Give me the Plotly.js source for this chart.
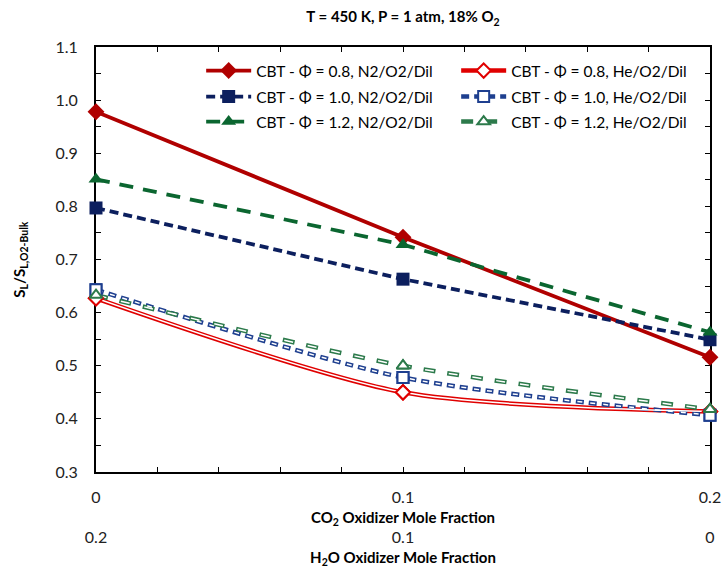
<!DOCTYPE html>
<html>
<head>
<meta charset="utf-8">
<script src="https://cdn.plot.ly/plotly-3.0.1.min.js"></script>
<style>html,body{margin:0;padding:0;background:#fff;}</style>
</head>
<body>
<div id="chart" style="width:723px;height:570px;"></div>
<script>
// ---- data ----
const co2Fraction = [0, 0.1, 0.2];
const h2oTickVals = [0.2, 0.1, 0];
const h2oTickText = ['0.2', '0.1', '0'];

const phi08_N2 = [0.978, 0.742, 0.516];
const phi10_N2 = [0.797, 0.663, 0.549];
const phi12_N2 = [0.851, 0.728, 0.563];
const phi08_He = [0.627, 0.450, 0.414];
const phi10_He = [0.643, 0.478, 0.407];
const phi12_He = [0.633, 0.500, 0.418];

const names = [
  'CBT - \u03A6 = 0.8, N2/O2/Dil', 'CBT - \u03A6 = 0.8, He/O2/Dil',
  'CBT - \u03A6 = 1.0, N2/O2/Dil', 'CBT - \u03A6 = 1.0, He/O2/Dil',
  'CBT - \u03A6 = 1.2, N2/O2/Dil', 'CBT - \u03A6 = 1.2, He/O2/Dil'
];

const xTickVals = [0, 0.02, 0.04, 0.06, 0.08, 0.1, 0.12, 0.14, 0.16, 0.18, 0.2];
const xTickText = ['0', '', '', '', '', '0.1', '', '', '', '', '0.2'];
const yTickVals = [0.3, 0.35, 0.4, 0.45, 0.5, 0.55, 0.6, 0.65, 0.7, 0.75, 0.8, 0.85, 0.9, 0.95, 1.0, 1.05, 1.1];
const yTickText = ['0.3', '', '0.4', '', '0.5', '', '0.6', '', '0.7', '', '0.8', '', '0.9', '', '1.0', '', '1.1'];

// ---- styles ----
const RED = '#B00000', NAVY = '#0C1F5E', GREEN = '#0B6630';
const RED2 = '#E00000', BLUE2 = '#1E3F8F', GREEN2 = '#2C7A4B';
const FONT = 'Lato, "Open Sans", sans-serif';
const SMOOTH = 0.75;

function n2Trace(y, name, color, dash, symbol, leg) {
  return {
    x: co2Fraction, y: y, name: name, type: 'scatter', mode: 'lines+markers', legend: leg,
    cliponaxis: false,
    line: {color: color, width: 3.8, dash: dash},
    marker: {color: color, symbol: symbol, size: 13},
    xaxis: 'x', yaxis: 'y'
  };
}
function heOuter(y, name, color, dash, symbol, leg) {
  return {
    x: co2Fraction, y: y, name: name, type: 'scatter', mode: 'lines+markers', legend: leg,
    cliponaxis: false,
    line: {color: color, width: 4.5, dash: dash, shape: 'spline', smoothing: SMOOTH},
    marker: {color: '#ffffff', symbol: symbol, size: 11, line: {color: color, width: 2}},
    xaxis: 'x', yaxis: 'y'
  };
}
function heInner(y, dash) {
  return {
    x: co2Fraction, y: y, type: 'scatter', mode: 'lines', showlegend: false, hoverinfo: 'skip',
    cliponaxis: false,
    line: {color: '#ffffff', width: 1.5, dash: dash, shape: 'spline', smoothing: SMOOTH},
    xaxis: 'x', yaxis: 'y'
  };
}
function heMarkers(y, color, symbol) {
  return {
    x: co2Fraction, y: y, type: 'scatter', mode: 'markers', showlegend: false, hoverinfo: 'skip',
    cliponaxis: false,
    marker: {color: '#ffffff', symbol: symbol, size: 11, line: {color: color, width: 2}},
    xaxis: 'x', yaxis: 'y'
  };
}

const traces = [
  n2Trace(phi08_N2, names[0], RED, 'solid', 'diamond', 'legend'),
  heOuter(phi08_He, names[1], RED2, 'solid', 'diamond', 'legend'),
  n2Trace(phi10_N2, names[2], NAVY, '9px,5px', 'square', 'legend2'),
  heOuter(phi10_He, names[3], BLUE2, '8px,5px', 'square', 'legend2'),
  n2Trace(phi12_N2, names[4], GREEN, '14px,10px', 'triangle-up', 'legend3'),
  heOuter(phi12_He, names[5], GREEN2, '12px,12px', 'triangle-up', 'legend3'),
  heInner(phi08_He, 'solid'),
  heInner(phi10_He, '0px,1.5px,5px,6.5px'),
  heInner(phi12_He, '0px,1.5px,9px,13.5px'),
  heMarkers(phi08_He, RED2, 'diamond'),
  heMarkers(phi10_He, BLUE2, 'square'),
  heMarkers(phi12_He, GREEN2, 'triangle-up')
];

const axisCommon = {
  showline: true, linecolor: '#000', linewidth: 2, mirror: 'ticks',
  ticks: 'inside', ticklen: 5, tickwidth: 1, tickcolor: '#000',
  showgrid: false, zeroline: false, fixedrange: true, layer: 'below traces',
  tickfont: {family: FONT, size: 16, color: '#222'}
};

function legendRow(yPaper) {
  return {
    orientation: 'h', x: 0.171, xanchor: 'left', y: yPaper, yanchor: 'middle',
    entrywidth: 195, entrywidthmode: 'pixels', traceorder: 'normal',
    font: {family: FONT, size: 15.5, color: '#000'},
    bgcolor: 'rgba(0,0,0,0)', itemwidth: 45
  };
}
// plot area: top 47px, domain bottom at 472px; paper height between 47 and 514
function rowY(px) { return (514 - px) / 467; }

const layout = {
  width: 723, height: 570,
  margin: {l: 96, r: 12, t: 47, b: 56},
  paper_bgcolor: '#fff', plot_bgcolor: '#fff',
  font: {family: FONT, color: '#000'},
  title: {
    text: '<b>T = 450 K, P = 1 atm, 18% O<sub>2</sub></b>',
    font: {family: FONT, size: 15, color: '#000'},
    x: 0.5, xref: 'paper', y: 0.97, yref: 'container', yanchor: 'middle'
  },
  xaxis: Object.assign({}, axisCommon, {
    range: [0, 0.2], anchor: 'y', tickmode: 'array', tickvals: xTickVals, ticktext: xTickText,
    ticklabelstandoff: 10,
    title: {text: '<b>CO<sub>2</sub> Oxidizer Mole Fraction</b>', font: {family: FONT, size: 15, color: '#000'}, standoff: 7}
  }),
  xaxis2: {
    overlaying: 'x', anchor: 'free', position: 0, side: 'bottom', range: [0.2, 0],
    tickmode: 'array', tickvals: h2oTickVals, ticktext: h2oTickText,
    showline: false, ticks: '', showgrid: false, zeroline: false, fixedrange: true,
    ticklabelstandoff: 12,
    tickfont: {family: FONT, size: 16, color: '#222'},
    title: {text: '<b>H<sub>2</sub>O Oxidizer Mole Fraction</b>', font: {family: FONT, size: 15, color: '#000'}, standoff: 7}
  },
  yaxis: Object.assign({}, axisCommon, {
    range: [0.3, 1.1], domain: [0.0899, 1], tickmode: 'array', tickvals: yTickVals, ticktext: yTickText,
    ticklabelstandoff: 13
  }),
  annotations: [{
    text: '<b>S<sub>L</sub>/S<sub>L,O2-Bulk</sub></b>', textangle: -90,
    xref: 'paper', x: -(96 - 19) / 615, xanchor: 'center',
    yref: 'paper', y: (0.0899 + 1) / 2, yanchor: 'middle',
    showarrow: false, font: {family: FONT, size: 15, color: '#000'}
  }],
  showlegend: true,
  legend: legendRow(rowY(71)),
  legend2: legendRow(rowY(97)),
  legend3: legendRow(rowY(122))
};

// dummy trace so the H2O axis renders
traces.push({x: h2oTickVals, y: [null, null, null], xaxis: 'x2', yaxis: 'y', showlegend: false, hoverinfo: 'skip', mode: 'lines'});

Plotly.newPlot('chart', traces, layout, {displayModeBar: false, staticPlot: true});
</script>
</body>
</html>
